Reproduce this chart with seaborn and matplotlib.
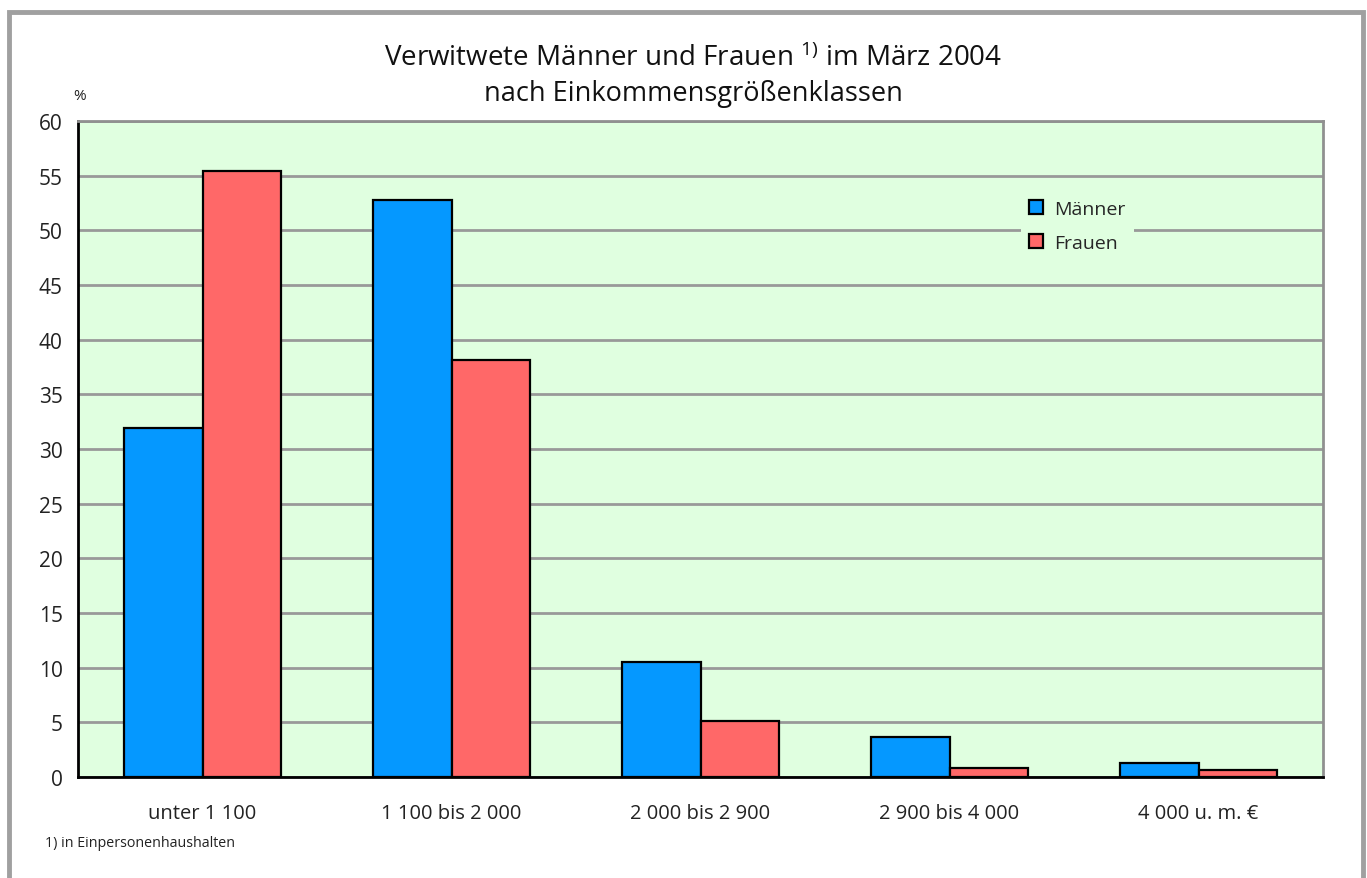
import matplotlib
matplotlib.use("Agg")
import matplotlib.pyplot as plt
from matplotlib.patches import Rectangle
import seaborn as sns
import pandas as pd

# data
klassen = ["unter 1 100", "1 100 bis 2 000", "2 000 bis 2 900", "2 900 bis 4 000", "4 000 u. m. €"]
maenner = [31.9, 52.8, 10.5, 3.7, 1.3]
frauen = [55.4, 38.1, 5.1, 0.8, 0.6]
y_ticks = list(range(0, 61, 5))

df = pd.DataFrame({
    "klasse": klassen * 2,
    "wert": maenner + frauen,
    "geschlecht": ["Männer"] * len(klassen) + ["Frauen"] * len(klassen),
})

sns.set_style("white")
plt.rcParams["font.family"] = ["Open Sans", "DejaVu Sans"]
plt.rcParams["mathtext.default"] = "regular"

fig = plt.figure(figsize=(13.67, 8.79), dpi=100)
ax = fig.add_axes([78 / 1367, 101 / 879, 1245 / 1367, 656 / 879])
ax.set_facecolor("#E0FFE0")

sns.barplot(data=df, x="klasse", y="wert", hue="geschlecht", order=klassen,
            palette={"Männer": "#0598FF", "Frauen": "#FF6868"},
            width=0.63, gap=0, edgecolor="black", linewidth=1.6,
            saturation=1, errorbar=None, ax=ax, zorder=3)

ax.set_ylim(0, 60)
ax.set_xlim(-0.5, len(klassen) - 0.5)
ax.set_yticks(y_ticks)
ax.set_yticks([v + 2.5 for v in y_ticks[:-1]], minor=True)
ax.yaxis.grid(True, color="#999999", linewidth=2, zorder=0)
ax.set_axisbelow(True)

# x ticks at category boundaries, labels centred under the groups
ax.set_xticks([i - 0.5 for i in range(len(klassen) + 1)])
ax.set_xticklabels([])
ax.set_xticks(range(len(klassen)), minor=True)
ax.set_xticklabels(klassen, minor=True)
ax.tick_params(axis="x", which="major", direction="out", length=8, width=2, color="black")
ax.tick_params(axis="x", which="minor", length=0, pad=19, labelsize=14.5, labelcolor="#222222")
ax.tick_params(axis="y", which="major", direction="out", length=7, width=2, color="black",
               labelsize=15, labelcolor="#222222", pad=4)
ax.tick_params(axis="y", which="minor", direction="out", length=5, width=2, color="black")
ax.set_xlabel("")
ax.set_ylabel("")

for side in ["left", "bottom"]:
    ax.spines[side].set_color("black")
    ax.spines[side].set_linewidth(2)
for side in ["top", "right"]:
    ax.spines[side].set_color("#909090")
    ax.spines[side].set_linewidth(2)

leg = ax.legend(loc="upper left", bbox_to_anchor=(0.75, 0.907), frameon=True,
                facecolor="#E0FFE0", edgecolor="none", fontsize=14,
                handlelength=0.7, handleheight=0.7, handletextpad=0.6,
                labelspacing=0.85, borderpad=0.4, framealpha=1)
leg.get_frame().set_linewidth(0)

fig.text(0.507, 1 - 66 / 879, "Verwitwete Männer und Frauen $^{1)}$ im März 2004",
         ha="center", va="baseline", fontsize=20, color="#111111")
fig.text(0.507, 1 - 101 / 879, "nach Einkommensgrößenklassen",
         ha="center", va="baseline", fontsize=19.5, color="#111111")
fig.text(73 / 1367, 1 - 97 / 879, "%", ha="left", va="center", fontsize=11, color="#222222")
fig.text(45 / 1367, 1 - 844 / 879, "1) in Einpersonenhaushalten", ha="left", va="center",
         fontsize=10.3, color="#222222")

# grey frame around the chart
fig.patches.append(Rectangle((9 / 1367, -0.05), 1354 / 1367, 1.05 - 13 / 879,
                             transform=fig.transFigure, fill=False,
                             edgecolor="#A0A0A0", linewidth=3.5))

fig.savefig("out.png", dpi=100, facecolor="white")
